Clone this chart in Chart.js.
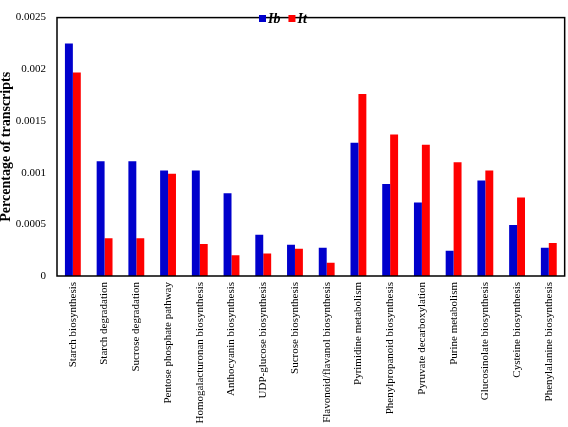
<!DOCTYPE html>
<html>
<head>
<meta charset="utf-8">
<script src="https://cdn.jsdelivr.net/npm/chart.js@4.4.0/dist/chart.umd.min.js"></script>
<style>
html,body{margin:0;padding:0;background:#fff;}
#wrap{width:568px;height:427px;position:relative;}
</style>
</head>
<body>
<div id="wrap"><canvas id="c" width="568" height="427"></canvas></div>
<script>
const categoryLabels = [
  "Starch biosynthesis","Starch degradation","Sucrose degradation","Pentose phosphate pathway",
  "Homogalacturonan biosynthesis","Anthocyanin biosynthesis","UDP-glucose biosynthesis",
  "Sucrose biosynthesis","Flavonoid/flavanol biosynthesis","Pyrimidine metabolism",
  "Phenylpropanoid biosynthesis","Pyruvate decarboxylation","Purine metabolism",
  "Glucosinolate biosynthesis","Cysteine biosynthesis","Phenylalanine biosynthesis"
];
const seriesNames = ["Ib", "It"];
const ibValues = [0.00225, 0.00111, 0.00111, 0.00102, 0.00102, 0.0008, 0.0004, 0.000303, 0.000273, 0.00129, 0.00089, 0.00071, 0.000245, 0.000925, 0.000493, 0.000273];
const itValues = [0.00197, 0.000365, 0.000365, 0.00099, 0.00031, 0.0002, 0.000218, 0.000264, 0.000129, 0.00176, 0.00137, 0.00127, 0.0011, 0.00102, 0.00076, 0.000319];
const yTicks = [0, 0.0005, 0.001, 0.0015, 0.002, 0.0025];

const SERIF = "'Liberation Serif', 'Times New Roman', serif";
const colors = ["#0000CC", "#FF0000"];

const framePlugin = {
  id: 'frame',
  afterDatasetsDraw(chart) {
    const a = chart.chartArea, ctx = chart.ctx;
    ctx.save();
    ctx.strokeStyle = '#000';
    ctx.lineWidth = 1.5;
    ctx.strokeRect(a.left, a.top, a.right - a.left, a.bottom - a.top);
    ctx.restore();
  }
};
const legendPlugin = {
  id: 'customLegend',
  afterDraw(chart) {
    const ctx = chart.ctx;
    ctx.save();
    ctx.font = "bold italic 14px " + SERIF;
    ctx.textBaseline = 'middle';
    let x = 259, y = 18.5;
    chart.data.datasets.forEach((ds) => {
      ctx.fillStyle = ds.backgroundColor;
      ctx.fillRect(x, y - 3.5, 7, 7);
      ctx.fillStyle = '#000';
      ctx.fillText(ds.label, x + 9, y + 0.5);
      x += 9 + ctx.measureText(ds.label).width + 8;
    });
    ctx.restore();
  }
};

new Chart(document.getElementById('c'), {
  type: 'bar',
  data: {
    labels: categoryLabels,
    datasets: [
      { label: seriesNames[0], data: ibValues, backgroundColor: colors[0] },
      { label: seriesNames[1], data: itValues, backgroundColor: colors[1] }
    ]
  },
  options: {
    responsive: false,
    animation: false,
    devicePixelRatio: 1,
    layout: { padding: { top: -9, right: 0, left: 0, bottom: 0 } },
    categoryPercentage: 0.5,
    barPercentage: 1.0,
    plugins: { legend: { display: false }, tooltip: { enabled: false } },
    scales: {
      x: {
        grid: { display: false, drawTicks: false },
        border: { display: false },
        ticks: {
          autoSkip: false, maxRotation: 90, minRotation: 90, padding: 6,
          color: '#000', font: { family: SERIF, size: 11 }
        },
        afterFit(s) { s.height = 151; }
      },
      y: {
        min: 0, max: 0.0025,
        grid: { display: false, drawTicks: false },
        border: { display: false },
        afterBuildTicks(s) { s.ticks = yTicks.map(v => ({ value: v })); },
        ticks: {
          padding: 11, color: '#000', font: { family: SERIF, size: 11 },
          callback: v => String(Number(v.toFixed(4)))
        },
        title: {
          display: true, text: 'Percentage of transcripts', color: '#000',
          font: { family: SERIF, size: 14, weight: 'bold', lineHeight: 0.9 }, padding: { top: 0, bottom: 0 }
        },
        afterFit(s) { s.width = 57; }
      }
    }
  },
  plugins: [framePlugin, legendPlugin]
});
</script>
</body>
</html>
